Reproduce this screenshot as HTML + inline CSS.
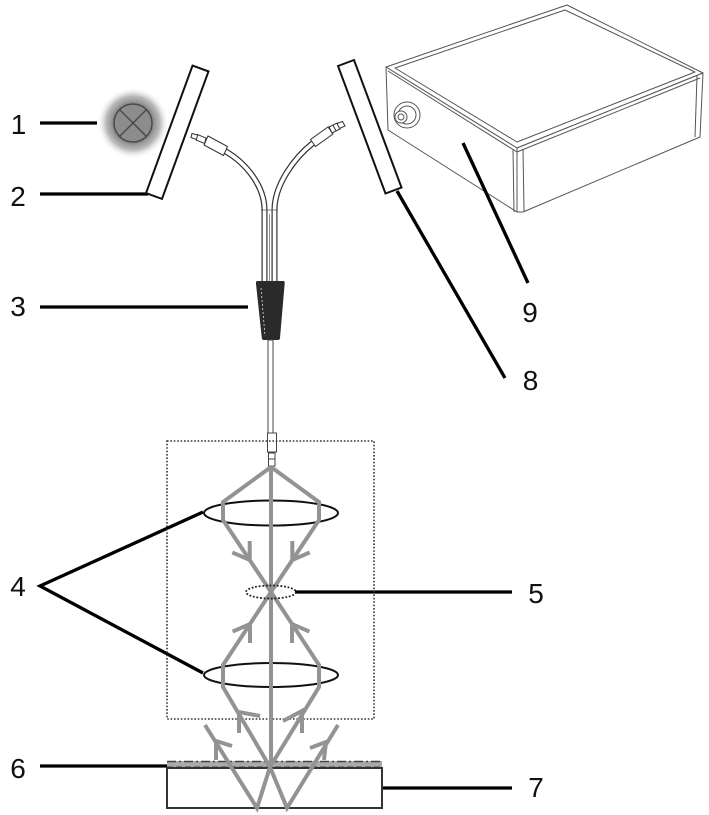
<!DOCTYPE html>
<html><head><meta charset="utf-8"><style>
html,body{margin:0;padding:0;background:#fff;}
svg{display:block;}
text{font-family:"Liberation Sans",sans-serif;font-size:28px;fill:#111;}
</style></head><body>
<svg width="709" height="815" viewBox="0 0 709 815" xmlns="http://www.w3.org/2000/svg">
<defs>
<radialGradient id="glow" cx="0.5" cy="0.5" r="0.5">
<stop offset="0" stop-color="#808080"/>
<stop offset="0.55" stop-color="#888888"/>
<stop offset="0.75" stop-color="#aaaaaa" stop-opacity="0.8"/>
<stop offset="1" stop-color="#ffffff" stop-opacity="0"/>
</radialGradient>
</defs>

<!-- Labels -->
<text x="18.5" y="134" text-anchor="middle">1</text>
<text x="18" y="206" text-anchor="middle">2</text>
<text x="18" y="316" text-anchor="middle">3</text>
<text x="18" y="596" text-anchor="middle">4</text>
<text x="18" y="778" text-anchor="middle">6</text>
<text x="536" y="603" text-anchor="middle">5</text>
<text x="536" y="797" text-anchor="middle">7</text>
<text x="530.5" y="390" text-anchor="middle">8</text>
<text x="530" y="322" text-anchor="middle">9</text>

<!-- Lamp -->
<circle cx="133" cy="123" r="36" fill="url(#glow)"/>
<circle cx="133" cy="123" r="19" fill="#8c8c8c" stroke="#4a4a4a" stroke-width="1.5"/>
<line x1="119.6" y1="109.6" x2="146.4" y2="136.4" stroke="#4a4a4a" stroke-width="1.5"/>
<line x1="146.4" y1="109.6" x2="119.6" y2="136.4" stroke="#4a4a4a" stroke-width="1.5"/>

<!-- Box (spectrometer) -->
<g fill="#fff" stroke="#555" stroke-width="1" stroke-linejoin="round">
<polygon points="386,67 567,5 703,73 517,148"/>
<polygon points="386,67 517,148 517,212 388,130"/>
<polygon points="517,148 703,73 700,137 523,212 517,212"/>
<polygon points="395,68 565,10 695,72 517,142" fill="none"/>
<polyline points="388,71 517,152 700,78" fill="none"/>
<line x1="513" y1="150" x2="514" y2="212"/>
<line x1="523" y1="149" x2="524" y2="211"/>
<line x1="697" y1="76" x2="695" y2="137"/>
<circle cx="407" cy="115" r="13"/>
<circle cx="407" cy="115" r="9"/>
<circle cx="401" cy="117" r="6"/>
<circle cx="401" cy="117" r="3"/>
</g>

<!-- Leader lines -->
<g stroke="#000" stroke-width="3.3" fill="none" stroke-linecap="butt">
<line x1="40" y1="123" x2="97" y2="123"/>
<line x1="40" y1="194" x2="148" y2="194"/>
<line x1="40" y1="307" x2="248" y2="307"/>
<polyline points="203,512 40,586 203,673"/>
<line x1="40" y1="766" x2="167" y2="766"/>
<line x1="295" y1="592" x2="512" y2="592"/>
<line x1="382" y1="788" x2="512" y2="788"/>
<line x1="397" y1="191" x2="505" y2="378"/>
<line x1="463" y1="143" x2="528" y2="283"/>
</g>

<!-- Mirrors -->
<polygon points="192.5,65.6 208.5,71.4 162,198.9 146,193.1" fill="#fff" stroke="#111" stroke-width="2"/>
<polygon points="338,66 354,60 401.5,187.5 385.5,193.5" fill="#fff" stroke="#111" stroke-width="2"/>

<!-- Fiber bundle tubes -->
<g fill="none" stroke-linecap="butt">
<path d="M264.5,281 L264.5,210 C264.5,186 246,163 225,151" stroke="#333" stroke-width="6"/>
<path d="M264.5,281 L264.5,210 C264.5,186 246,163 225,151" stroke="#fff" stroke-width="3.6"/>
<path d="M274.5,281 L274.5,210 C274.5,185 294,158 313,143" stroke="#333" stroke-width="6"/>
<path d="M274.5,281 L274.5,210 C274.5,185 294,158 313,143" stroke="#fff" stroke-width="3.6"/>
<line x1="261" y1="210" x2="278" y2="210" stroke="#555" stroke-width="0.8"/>
<line x1="269.5" y1="214" x2="269.5" y2="281" stroke="#777" stroke-width="0.8"/>
</g>
<!-- left connector -->
<g stroke="#333" stroke-width="1" fill="#fff">
<polygon points="227.5,146.5 223.5,155.5 204,145 208,136"/>
<polygon points="206,138 204.5,143.5 196,140 197.5,134.5"/>
<polygon points="197.5,135 196.5,139.5 191,137.5 192,133.5"/>
</g>
<!-- right connector -->
<g stroke="#333" stroke-width="1" fill="#fff">
<polygon points="310.5,139.5 315.5,146.5 333,134 328,127"/>
<polygon points="329,127 332,133 340,129 337,123"/>
<polygon points="337,123.5 339.5,128.5 345,126 342.5,121.5"/>
<line x1="333" y1="125" x2="336" y2="131"/>
</g>

<!-- Connector 3 (dark) -->
<path d="M257,281 L283,281 Q285,281 284.7,283 L280,338 Q279.8,340 278,340 L264,340 Q262,340 261.8,338 L256,284 Q255.8,281 257,281 Z" fill="#2a2a2a"/>
<line x1="261" y1="288" x2="265" y2="336" stroke="#ddd" stroke-width="0.8" stroke-dasharray="2,2"/>

<!-- single fiber down -->
<rect x="268" y="340" width="5" height="93" fill="#fff" stroke="#444" stroke-width="1"/>
<rect x="267.5" y="433" width="9" height="19" fill="#fff" stroke="#444" stroke-width="1"/>
<rect x="268.5" y="453" width="6.5" height="13" fill="#fff" stroke="#444" stroke-width="1"/>
<line x1="268.5" y1="459" x2="275" y2="459" stroke="#444" stroke-width="1"/>

<!-- dotted box -->
<rect x="167" y="441" width="207" height="278" fill="none" stroke="#333" stroke-width="1.6" stroke-dasharray="1.6,1.8"/>

<!-- substrate & layer -->
<rect x="167" y="761" width="215" height="7" fill="#aaa"/>
<line x1="167" y1="761.5" x2="382" y2="761.5" stroke="#444" stroke-width="1.5" stroke-dasharray="9,3,2,3"/>
<line x1="167" y1="766.5" x2="382" y2="766.5" stroke="#777" stroke-width="1" stroke-dasharray="6,3"/>
<rect x="167" y="768" width="215" height="40" fill="none" stroke="#333" stroke-width="2"/>

<!-- lenses -->
<ellipse cx="271" cy="513" rx="67" ry="12.5" fill="none" stroke="#111" stroke-width="2"/>
<ellipse cx="271" cy="675" rx="67" ry="12" fill="none" stroke="#111" stroke-width="2"/>

<!-- gray rays -->
<g stroke="#939393" stroke-width="4" fill="none" stroke-linejoin="miter" stroke-linecap="butt">
<line x1="271" y1="467" x2="271" y2="767"/>
<polyline points="271,467 223,502 223,520 271,592 223,665 223,687 270,767"/>
<polyline points="271,467 319,502 319,520 271,592 319,665 319,687 270,767"/>
<polyline points="205,725 257,808 270,767 287,808 338,725"/>
<!-- arrows -->
<polyline points="249.7,541 249.7,560 232.3,552.4"/>
<polyline points="292.3,541 292.3,560 309.7,552.4"/>
<polyline points="250,643 250,624 232.6,631.6"/>
<polyline points="292,643 292,624 309.4,631.6"/>
<polyline points="239,733 239,712 260,716"/>
<polyline points="302,733 302,711 283,721"/>
<polyline points="216,760 216,741 232,746"/>
<polyline points="324,760 326,742 310,748"/>
</g>

<ellipse cx="271" cy="592" rx="25" ry="6.5" fill="none" stroke="#222" stroke-width="1.8" stroke-dasharray="1.8,1.8"/>
</svg>
</body></html>
